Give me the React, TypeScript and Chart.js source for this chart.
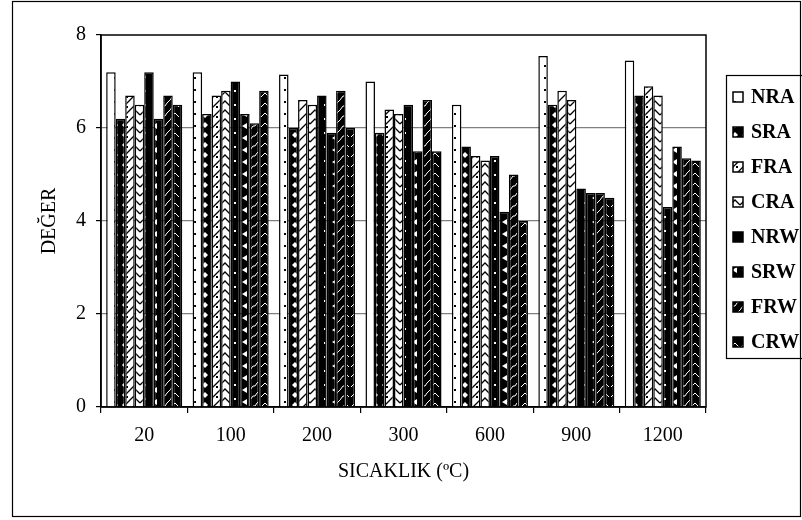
import React, { useEffect, useRef } from "react";
import { Chart, registerables } from "chart.js";

Chart.register(...registerables);

const categories = ["20", "100", "200", "300", "600", "900", "1200"];
const seriesNames = ["NRA", "SRA", "FRA", "CRA", "NRW", "SRW", "FRW", "CRW"];
const NRA = [7.2, 7.2, 7.15, 7.0, 6.5, 7.55, 7.45];
const SRA = [6.2, 6.3, 6.0, 5.9, 5.6, 6.5, 6.7];
const FRA = [6.7, 6.7, 6.6, 6.4, 5.4, 6.8, 6.9];
const CRA = [6.5, 6.8, 6.5, 6.3, 5.3, 6.6, 6.7];
const NRW = [7.2, 7.0, 6.7, 6.5, 5.4, 4.7, 4.3];
const SRW = [6.2, 6.3, 5.9, 5.5, 4.2, 4.6, 5.6];
const FRW = [6.7, 6.1, 6.8, 6.6, 5.0, 4.6, 5.35];
const CRW = [6.5, 6.8, 6.0, 5.5, 4.0, 4.5, 5.3];
const seriesValues = [NRA, SRA, FRA, CRA, NRW, SRW, FRW, CRW];
const yTicks = [0, 2, 4, 6, 8];
const xTitle = "SICAKLIK (ºC)";
const yTitle = "DEĞER";

const FAMILY = "'Liberation Serif', 'Times New Roman', serif";

function makePattern(
  bg: string,
  fg: string,
  w: number,
  h: number,
  draw: (c: CanvasRenderingContext2D) => void
): CanvasPattern | string {
  const cv = document.createElement("canvas");
  cv.width = w;
  cv.height = h;
  const c = cv.getContext("2d");
  if (!c) return bg;
  c.fillStyle = bg;
  c.fillRect(0, 0, w, h);
  c.fillStyle = fg;
  c.strokeStyle = fg;
  c.lineWidth = 1.3;
  draw(c);
  return c.createPattern(cv, "repeat") || bg;
}

function buildPatterns() {
  return [
    // NRA: white with dots
    makePattern("#fff", "#000", 10, 12, (c) => {
      c.fillRect(4, 5, 2, 2);
    }),
    // SRA: black with white diamonds
    makePattern("#000", "#fff", 10, 10, (c) => {
      c.beginPath();
      c.moveTo(5, 2);
      c.lineTo(8, 5);
      c.lineTo(5, 8);
      c.lineTo(2, 5);
      c.closePath();
      c.fill();
    }),
    // FRA: white with diagonal hatch
    makePattern("#fff", "#000", 10, 10, (c) => {
      c.beginPath();
      c.moveTo(0, 10);
      c.lineTo(10, 0);
      c.moveTo(-2, 2);
      c.lineTo(2, -2);
      c.moveTo(8, 12);
      c.lineTo(12, 8);
      c.stroke();
      c.fillRect(6, 6, 2, 2);
    }),
    // CRA: white with chevrons
    makePattern("#fff", "#000", 10, 9, (c) => {
      c.beginPath();
      c.moveTo(0, 7);
      c.lineTo(5, 2);
      c.lineTo(10, 7);
      c.stroke();
    }),
    // NRW: black with white dots
    makePattern("#000", "#fff", 10, 14, (c) => {
      c.fillRect(4, 6, 2, 2);
    }),
    // SRW: black with white triangles
    makePattern("#000", "#fff", 10, 12, (c) => {
      c.beginPath();
      c.moveTo(2, 6);
      c.lineTo(7, 3);
      c.lineTo(7, 9);
      c.closePath();
      c.fill();
    }),
    // FRW: black with white wavy diagonal
    makePattern("#000", "#fff", 10, 10, (c) => {
      c.lineWidth = 1;
      c.beginPath();
      c.moveTo(0, 10);
      c.lineTo(3, 6);
      c.lineTo(5, 6);
      c.lineTo(7, 3);
      c.lineTo(10, 0);
      c.stroke();
    }),
    // CRW: black with white chevrons
    makePattern("#000", "#fff", 10, 10, (c) => {
      c.lineWidth = 1;
      c.beginPath();
      c.moveTo(1, 7);
      c.lineTo(5, 3);
      c.lineTo(9, 7);
      c.stroke();
    }),
  ];
}

const decorPlugin = {
  id: "decor",
  afterDraw(chart: any) {
    const { ctx, chartArea: a } = chart;
    ctx.save();
    ctx.strokeStyle = "#000";
    ctx.lineWidth = 1.5;
    // plot frame
    ctx.strokeRect(a.left, a.top, a.right - a.left, a.bottom - a.top);
    // outer frame
    ctx.lineWidth = 1.2;
    ctx.strokeRect(12.5, 1.5, 788, 515);
    // legend box
    const lx = a.right + 20;
    const ly = a.top + 40;
    const lw = 90;
    const lh = 283;
    ctx.lineWidth = 1.2;
    ctx.strokeRect(lx + 0.5, ly + 0.5, lw, lh);
    ctx.font = "bold 20px " + FAMILY;
    ctx.textBaseline = "middle";
    ctx.textAlign = "left";
    chart.data.datasets.forEach((ds: any, i: number) => {
      const cy = ly + 22 + i * 35;
      const bx = lx + 7;
      ctx.fillStyle = ds.backgroundColor;
      ctx.fillRect(bx, cy - 5, 10, 10);
      ctx.lineWidth = 1.5;
      ctx.strokeRect(bx, cy - 5, 10, 10);
      ctx.fillStyle = "#000";
      ctx.fillText(ds.label, bx + 18, cy + 1);
    });
    ctx.restore();
  },
};

export default function App() {
  const ref = useRef<HTMLCanvasElement | null>(null);

  useEffect(() => {
    document.body.style.margin = "0";
    const canvas = ref.current;
    if (!canvas) return;
    const patterns = buildPatterns();
    const chart = new Chart(canvas, {
      type: "bar",
      data: {
        labels: categories,
        datasets: seriesNames.map((name, i) => ({
          label: name,
          data: seriesValues[i],
          backgroundColor: patterns[i] as any,
          borderColor: "#000",
          borderWidth: 1.5,
          borderSkipped: "bottom",
          categoryPercentage: 0.88,
          barPercentage: 1.0,
        })),
      },
      options: {
        responsive: false,
        animation: false,
        layout: { padding: { top: 35, right: 96, left: 0, bottom: 0 } },
        plugins: {
          legend: { display: false },
          tooltip: { enabled: false },
        },
        scales: {
          x: {
            afterFit: (s: any) => {
              s.height = 113;
            },
            grid: {
              display: true,
              drawOnChartArea: false,
              offset: true,
              tickLength: 6,
              color: "#000",
              lineWidth: 1.2,
            },
            border: { display: true, color: "#000", width: 1.5 },
            ticks: {
              font: { family: FAMILY, size: 20 },
              color: "#000",
              padding: 11,
            },
            title: {
              display: true,
              text: xTitle,
              font: { family: FAMILY, size: 20 },
              color: "#000",
              padding: { top: 0, bottom: 36 },
            },
          },
          y: {
            min: 0,
            max: 8,
            afterFit: (s: any) => {
              s.width = 101;
            },
            afterBuildTicks: (s: any) => {
              s.ticks = yTicks.map((v) => ({ value: v }));
            },
            grid: {
              color: (c: any) =>
                c.tick && (c.tick.value === 0 || c.tick.value === 8)
                  ? "rgba(0,0,0,0)"
                  : "#808080",
              tickColor: "#000",
              tickLength: 5,
              lineWidth: 1.2,
            },
            border: { display: true, color: "#000", width: 1.5 },
            ticks: {
              font: { family: FAMILY, size: 20 },
              color: "#000",
              padding: 10,
            },
            title: {
              display: true,
              text: yTitle,
              font: { family: FAMILY, size: 20 },
              color: "#000",
              padding: { top: 38, bottom: 0 },
            },
          },
        },
      },
      plugins: [decorPlugin],
    });
    return () => chart.destroy();
  }, []);

  return (
    <div style={{ position: "absolute", left: 0, top: 0, width: 802, height: 520, background: "#fff" }}>
      <canvas ref={ref} width={802} height={520} style={{ display: "block" }} />
    </div>
  );
}
